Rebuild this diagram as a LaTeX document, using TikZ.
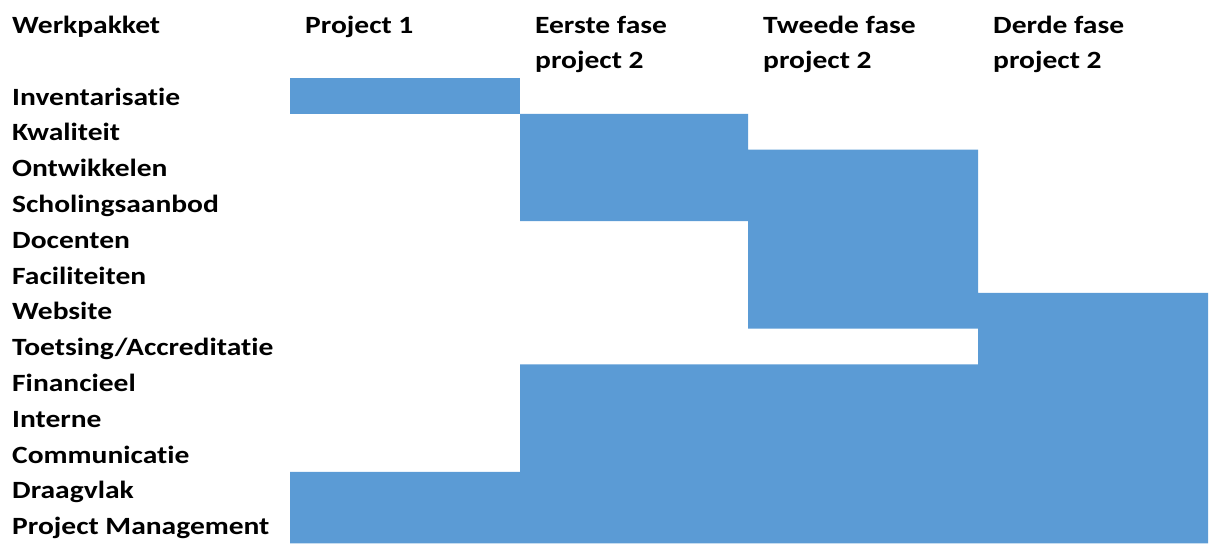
\documentclass[tikz,border=0pt]{standalone}
\usepackage{fontspec}
\setmainfont{Carlito}[FakeStretch=1.19, Ligatures=NoCommon]
\usepackage{xcolor}
\usepackage{tikz}
\usetikzlibrary{positioning}
\usetikzlibrary{calc}
\definecolor{barblue}{HTML}{5B9BD5}
\tikzset{
	lbl/.style={anchor=base west, inner sep=0pt, font=\bfseries\fontsize{24.8}{35}\selectfont},
	hdr/.style={lbl, align=left},
	bar/.style={fill=barblue, draw=none}
}
\begin{document}
\begin{tikzpicture}[x=1pt, y=-1pt]
	\newcommand\rowH{35.8}
	\newcommand\rowTop{78}
	\newcommand\colA{290}
	\newcommand\colB{520}
	\newcommand\colC{748}
	\newcommand\colD{978}
	\newcommand\colE{1208}
	\useasboundingbox (0,0) rectangle (1213,544);
	% headers
	\node[hdr] (hdrWp) at (12,33) {Werkpakket};
	\node[hdr] (hdrP1) at (\colA+15,33) {Project 1};
	\node[hdr] (hdrF1) at (\colB+15,68) {Eerste fase\\project 2};
	\node[hdr] (hdrF2) at (\colC+15,68) {Tweede fase\\project 2};
	\node[hdr] (hdrF3) at (\colD+15,68) {Derde fase\\project 2};
	% werkpakketten
	\node[lbl] (wp1) at (12,{105+0*\rowH}) {Inventarisatie};
	\node[lbl] (wp2) at (12,{105+1*\rowH}) {Kwaliteit};
	\node[lbl] (wp3) at (12,{105+2*\rowH}) {Ontwikkelen};
	\node[lbl] (wp4) at (12,{105+3*\rowH}) {Scholingsaanbod};
	\node[lbl] (wp5) at (12,{105+4*\rowH}) {Docenten};
	\node[lbl] (wp6) at (12,{105+5*\rowH}) {Faciliteiten};
	\node[lbl] (wp7) at (12,{105+6*\rowH}) {Website};
	\node[lbl] (wp8) at (12,{105+7*\rowH}) {Toetsing/Accreditatie};
	\node[lbl] (wp9) at (12,{105+8*\rowH}) {Financieel};
	\node[lbl] (wp10) at (12,{105+9*\rowH}) {Interne};
	\node[lbl] (wp11) at (12,{105+10*\rowH}) {Communicatie};
	\node[lbl] (wp12) at (12,{105+11*\rowH}) {Draagvlak};
	\node[lbl] (wp13) at (12,{105+12*\rowH}) {Project Management};
	% balken
	\fill[bar] (\colA,\rowTop) rectangle (\colB,{\rowTop+1*\rowH});
	\fill[bar] (\colB,{\rowTop+1*\rowH}) rectangle (\colC,{\rowTop+4*\rowH})
		(\colC,{\rowTop+2*\rowH}) rectangle (\colD,{\rowTop+7*\rowH})
		(\colD,{\rowTop+6*\rowH}) rectangle (\colE,{\rowTop+8*\rowH})
		(\colB,{\rowTop+8*\rowH}) rectangle (\colE,{\rowTop+11*\rowH})
		(\colA,{\rowTop+11*\rowH}) rectangle (\colE,{\rowTop+13*\rowH});
\end{tikzpicture}
\end{document}
